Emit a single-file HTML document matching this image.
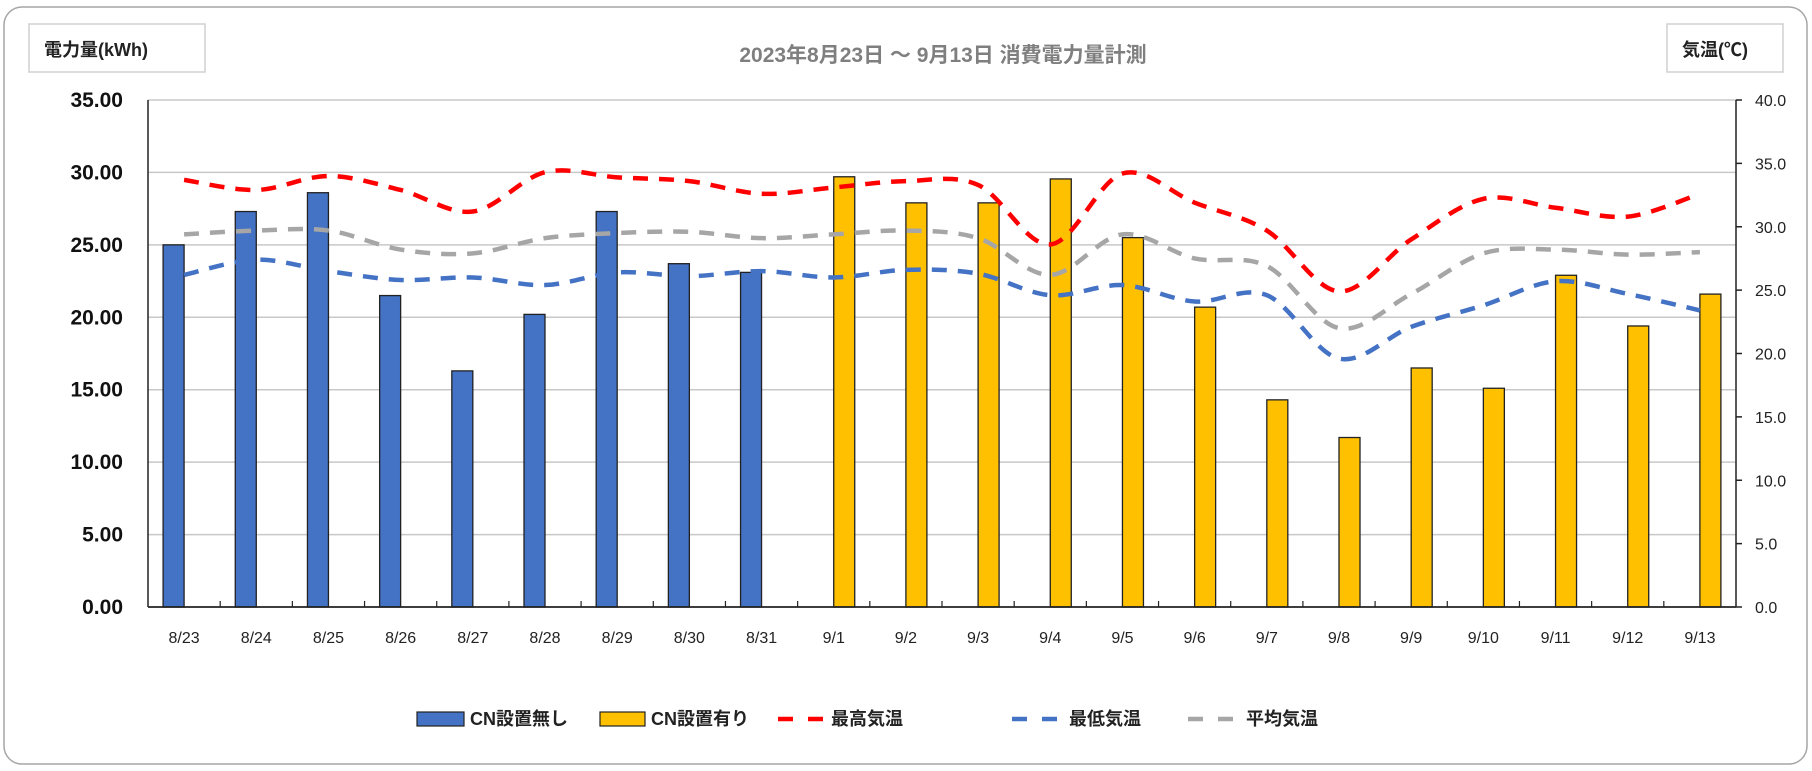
<!DOCTYPE html>
<html><head><meta charset="utf-8">
<style>
html,body{margin:0;padding:0;background:#fff;}
svg{display:block;font-family:"Liberation Sans","Noto Sans CJK JP",sans-serif;}
</style></head>
<body>
<svg id="chart" width="1812" height="771" viewBox="0 0 1812 771">
<rect x="4" y="7" width="1803" height="757" rx="18" fill="#fff" stroke="#a6a6a6" stroke-width="1.5"/>
<text x="943" y="62" text-anchor="middle" font-size="21" font-weight="bold" fill="#7f7f7f">2023年8月23日 ～ 9月13日 消費電力量計測</text>
<rect x="29" y="24" width="176" height="48" fill="#fff" stroke="#d0d0d0" stroke-width="1.5"/>
<text x="44" y="56" font-size="18" font-weight="bold" fill="#222">電力量(kWh)</text>
<rect x="1667" y="24" width="116" height="48" fill="#fff" stroke="#d0d0d0" stroke-width="1.5"/>
<text x="1682" y="56" font-size="18" font-weight="bold" fill="#222">気温(℃)</text>
<g id="grid"></g>
<g id="bars"></g>
<g id="lines"></g>
<g id="axes"></g>
<g id="legend">
<rect x="417" y="712" width="47" height="14" fill="#4472c4" stroke="#222" stroke-width="1.2"/>
<text x="470" y="725" font-size="18" font-weight="bold" fill="#222">CN設置無し</text>
<rect x="600" y="712" width="45" height="14" fill="#ffc000" stroke="#222" stroke-width="1.2"/>
<text x="651" y="725" font-size="18" font-weight="bold" fill="#222">CN設置有り</text>
<line x1="778" y1="719" x2="824" y2="719" stroke="#ff0000" stroke-width="4.5" stroke-dasharray="15,15"/>
<text x="831" y="725" font-size="18" font-weight="bold" fill="#222">最高気温</text>
<line x1="1012" y1="719" x2="1058" y2="719" stroke="#4472c4" stroke-width="4.5" stroke-dasharray="15,15"/>
<text x="1069" y="725" font-size="18" font-weight="bold" fill="#222">最低気温</text>
<line x1="1188" y1="719" x2="1234" y2="719" stroke="#a6a6a6" stroke-width="4.5" stroke-dasharray="15,15"/>
<text x="1246" y="725" font-size="18" font-weight="bold" fill="#222">平均気温</text>
</g>
</svg>
<script>
const categories = ["8/23","8/24","8/25","8/26","8/27","8/28","8/29","8/30","8/31","9/1","9/2","9/3","9/4","9/5","9/6","9/7","9/8","9/9","9/10","9/11","9/12","9/13"];
const noCnValues = [25.0,27.3,28.6,21.5,16.3,20.2,27.3,23.7,23.1,null,null,null,null,null,null,null,null,null,null,null,null,null];
const cnValues = [null,null,null,null,null,null,null,null,null,29.7,27.9,27.9,29.55,25.5,20.7,14.3,11.7,16.5,15.1,22.9,19.4,21.6];
const maxTemp = [33.7,32.9,34.0,32.9,31.2,34.3,33.9,33.6,32.6,33.1,33.6,33.3,28.6,34.2,31.9,29.7,24.9,29.0,32.2,31.5,30.8,32.6];
const minTemp = [26.2,27.4,26.5,25.8,26.0,25.4,26.4,26.1,26.5,26.0,26.6,26.3,24.6,25.4,24.1,24.6,19.6,22.1,23.8,25.7,24.7,23.4];
const avgTemp = [29.4,29.7,29.7,28.2,27.9,29.1,29.5,29.6,29.1,29.4,29.7,29.1,26.2,29.4,27.5,26.9,22.0,24.7,27.9,28.2,27.8,28.0];
const leftTicks = ["0.00","5.00","10.00","15.00","20.00","25.00","30.00","35.00"];
const rightTicks = ["0.0","5.0","10.0","15.0","20.0","25.0","30.0","35.0","40.0"];

const NS="http://www.w3.org/2000/svg";
const X0=148, X1=1736, Y0=607, Ytop=100;
const band=(X1-X0)/categories.length;
const yL=v=>Y0-(v/35)*(Y0-Ytop);
const yR=v=>Y0-(v/40)*(Y0-Ytop);
const xC=i=>X0+band*(i+0.5);
function mk(tag,attrs,parent){const e=document.createElementNS(NS,tag);for(const k in attrs)e.setAttribute(k,attrs[k]);parent.appendChild(e);return e;}
const grid=document.getElementById('grid'),bars=document.getElementById('bars'),lines=document.getElementById('lines'),axes=document.getElementById('axes');

leftTicks.forEach(t=>{
  const v=parseFloat(t), y=yL(v);
  if(v>0){const g=mk('line',{x1:X0,x2:X1,y1:y,y2:y,stroke:'#c8c8c8','stroke-width':1.5},grid);
  
  }
  const tx=mk('text',{x:123,y:y+7,'text-anchor':'end','font-size':21,'font-weight':'bold',fill:'#111'},axes);
  tx.textContent=t;
  
  
});
rightTicks.forEach(t=>{
  const v=parseFloat(t), y=yR(v);
  const tk=mk('line',{x1:X1,x2:X1+6,y1:y,y2:y,stroke:'#222','stroke-width':1.5},axes);
  
  
  const tx=mk('text',{x:1755,y:y+6,'font-size':16,fill:'#222'},axes);
  tx.textContent=t;
  
  
});

const bw=21;
categories.forEach((c,i)=>{
  if(noCnValues[i]!=null){const r=mk('rect',{x:xC(i)-bw,y:yL(noCnValues[i]),width:bw,height:Y0-yL(noCnValues[i]),fill:'#4472c4',stroke:'#222','stroke-width':1.3},bars);
  
  }
  if(cnValues[i]!=null){const r=mk('rect',{x:xC(i),y:yL(cnValues[i]),width:bw,height:Y0-yL(cnValues[i]),fill:'#ffc000',stroke:'#222','stroke-width':1.3},bars);
  
  }
  const tx=mk('text',{x:xC(i),y:643,'text-anchor':'middle','font-size':16,fill:'#222'},axes);
  tx.textContent=c;
  
  
  if(i>0){const tk=mk('line',{x1:X0+band*i,x2:X0+band*i,y1:Y0,y2:Y0-6,stroke:'#222','stroke-width':1.2},axes);
  
  }
});

function smooth(vals){
  const p=vals.map((v,i)=>[xC(i),yR(v)]);
  let d='M'+p[0][0]+','+p[0][1];
  for(let i=0;i<p.length-1;i++){
    const a=p[i-1]||p[i],b=p[i],c=p[i+1],e=p[i+2]||c,t=6;
    d+=' C'+(b[0]+(c[0]-a[0])/t)+','+(b[1]+(c[1]-a[1])/t)+' '+(c[0]-(e[0]-b[0])/t)+','+(c[1]-(e[1]-b[1])/t)+' '+c[0]+','+c[1];
  }
  return d;
}
[[avgTemp,'#a6a6a6','line-avg-temp'],[minTemp,'#4472c4','line-min-temp'],[maxTemp,'#ff0000','line-max-temp']].forEach(s=>{
  const p=mk('path',{d:smooth(s[0]),fill:'none',stroke:s[1],'stroke-width':4.5,'stroke-dasharray':'15,11'},lines);
  
  
});

const la=mk('line',{x1:X0,x2:X0,y1:Ytop,y2:Y0,stroke:'#222','stroke-width':1.5},axes);


const ra=mk('line',{x1:X1,x2:X1,y1:Ytop,y2:Y0,stroke:'#222','stroke-width':1.5},axes);


const xa=mk('line',{x1:X0,x2:X1,y1:Y0,y2:Y0,stroke:'#222','stroke-width':1.8},axes);


</script>
</body></html>
